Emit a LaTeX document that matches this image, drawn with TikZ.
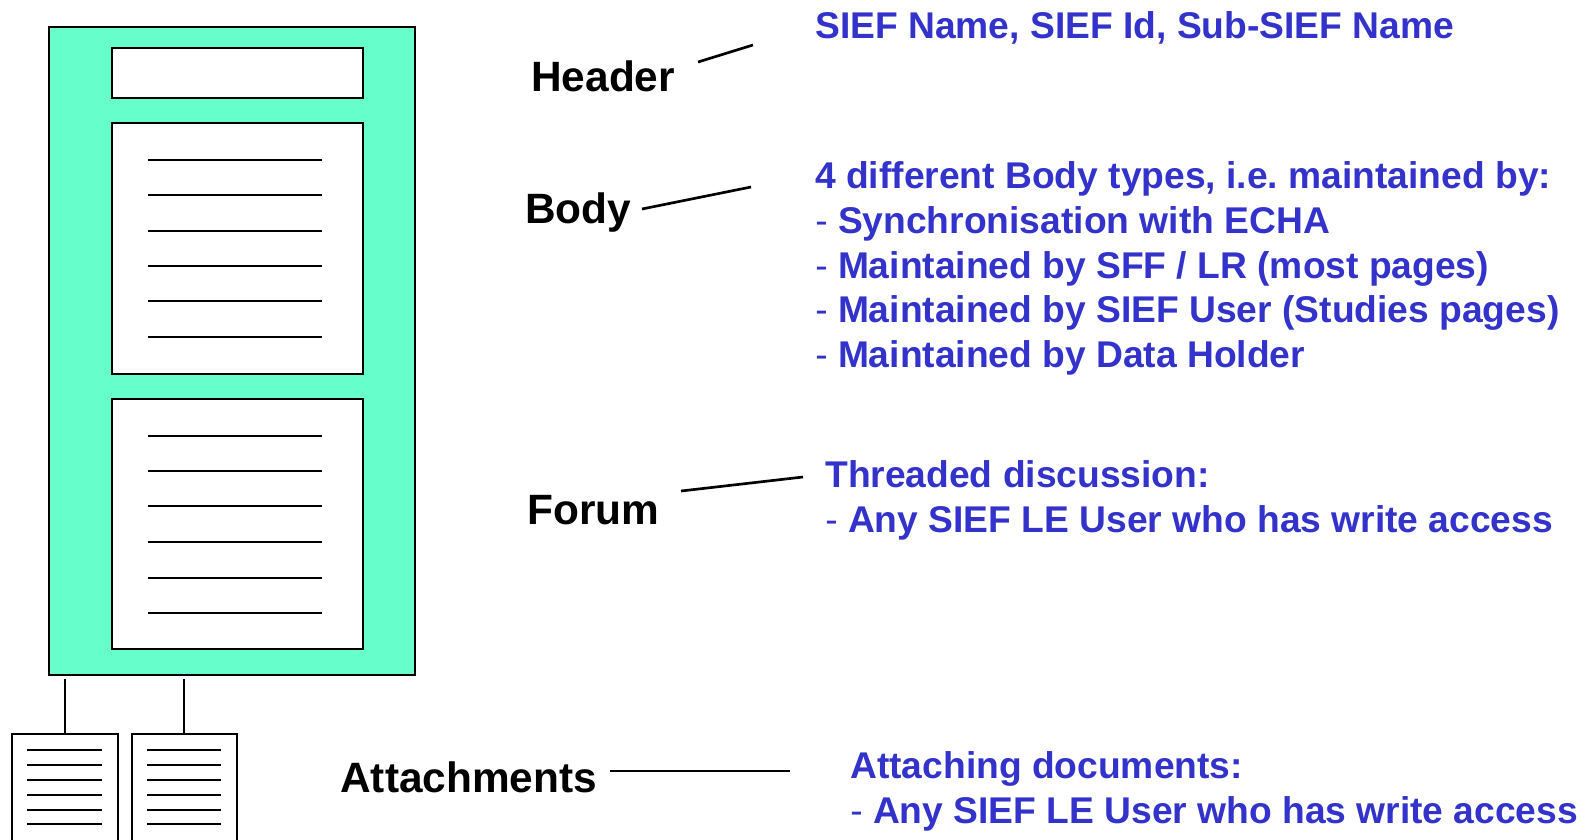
\documentclass[tikz,border=0pt]{standalone}
\usepackage{fontspec}
\setmainfont{Liberation Sans}
\frenchspacing
\definecolor{bluetxt}{RGB}{51,51,204}
\definecolor{pagegreen}{RGB}{102,255,204}
\tikzset{
  px/.style={x=0.75pt,y=-0.75pt},
  outerbox/.style={draw=black,fill=pagegreen,line width=2.2pt},
  innerbox/.style={draw=black,fill=white,line width=1.9pt},
  textline/.style={draw=black,line width=1.6pt},
  docbox/.style={draw=black,fill=white,line width=1.9pt},
  docline/.style={draw=black,line width=1.5pt},
  attachline/.style={draw=black,line width=1pt},
  callout/.style={draw=black,line width=2pt},
  lbl/.style={anchor=base west,inner sep=0pt,font=\fontsize{31.8}{36}\selectfont\bfseries,text=black},
  desc/.style={anchor=base west,inner sep=0pt,font=\fontsize{27.9}{33}\selectfont\bfseries,text=bluetxt},
}
\newcommand{\dsh}{{\mdseries -} }
\begin{document}
\begin{tikzpicture}[px]
\useasboundingbox (0,0) rectangle (1595,839);
\clip (0,0) rectangle (1595,839);
% page
\path[outerbox] (49,27) rectangle (415,675);
\path[innerbox] (112,48) rectangle (363,98);
\path[innerbox] (112,123) rectangle (363,374);
\foreach \y in {160,195,231,266,301,337}{\path[textline] (148,\y) -- (322,\y);}
\path[innerbox] (112,399) rectangle (363,649);
\foreach \y in {436,471,506,542,578,613}{\path[textline] (148,\y) -- (322,\y);}
% attachments
\path[attachline] (65,679) -- (65,734);
\path[attachline] (184,679) -- (184,734);
\path[docbox] (12,860) -- (12,734) -- (118,734) -- (118,860);
\path[docbox] (132,860) -- (132,734) -- (237,734) -- (237,860);
\foreach \y in {750,765,780,795,810,824}{
  \path[docline] (27,\y) -- (102,\y);
  \path[docline] (147,\y) -- (221,\y);
}
% labels
\node[lbl] (header) at (531,91) {Header};
\node[lbl] (body) at (525,223) {Body};
\node[lbl] (forum) at (527,524) {Forum};
\node[lbl] (attach) at (340,792) {Attachments};
% callout ends
\coordinate (h1) at (698,62); \coordinate (h2) at (753,45);
\coordinate (b1) at (642,209); \coordinate (b2) at (751,187);
\coordinate (f1) at (681,491); \coordinate (f2) at (803,477);
\coordinate (a1) at (610,771); \coordinate (a2) at (790,771);
\draw[callout] (h1) -- (h2);
\draw[callout] (b1) -- (b2);
\draw[callout] (f1) -- (f2);
\draw[callout] (a1) -- (a2);
% descriptions
\node[desc] (d1) at (815,38) {SIEF Name, SIEF Id, Sub-SIEF Name};
\node[desc] (d2) at (815,188) {4 different Body types, i.e. maintained by:};
\node[desc] (d3) at (815,233) {\dsh Synchronisation with ECHA};
\node[desc] (d4) at (815,278) {\dsh Maintained by SFF / LR (most pages)};
\node[desc] (d5) at (815,322) {\dsh Maintained by SIEF User (Studies pages)};
\node[desc] (d6) at (815,367) {\dsh Maintained by Data Holder};
\node[desc] (d7) at (825,487) {Threaded discussion:};
\node[desc] (d8) at (825,532) {\dsh Any SIEF LE User who has write access};
\node[desc] (d9) at (850,778) {Attaching documents:};
\node[desc] (d10) at (850,823) {\dsh Any SIEF LE User who has write access};
\end{tikzpicture}
\end{document}
